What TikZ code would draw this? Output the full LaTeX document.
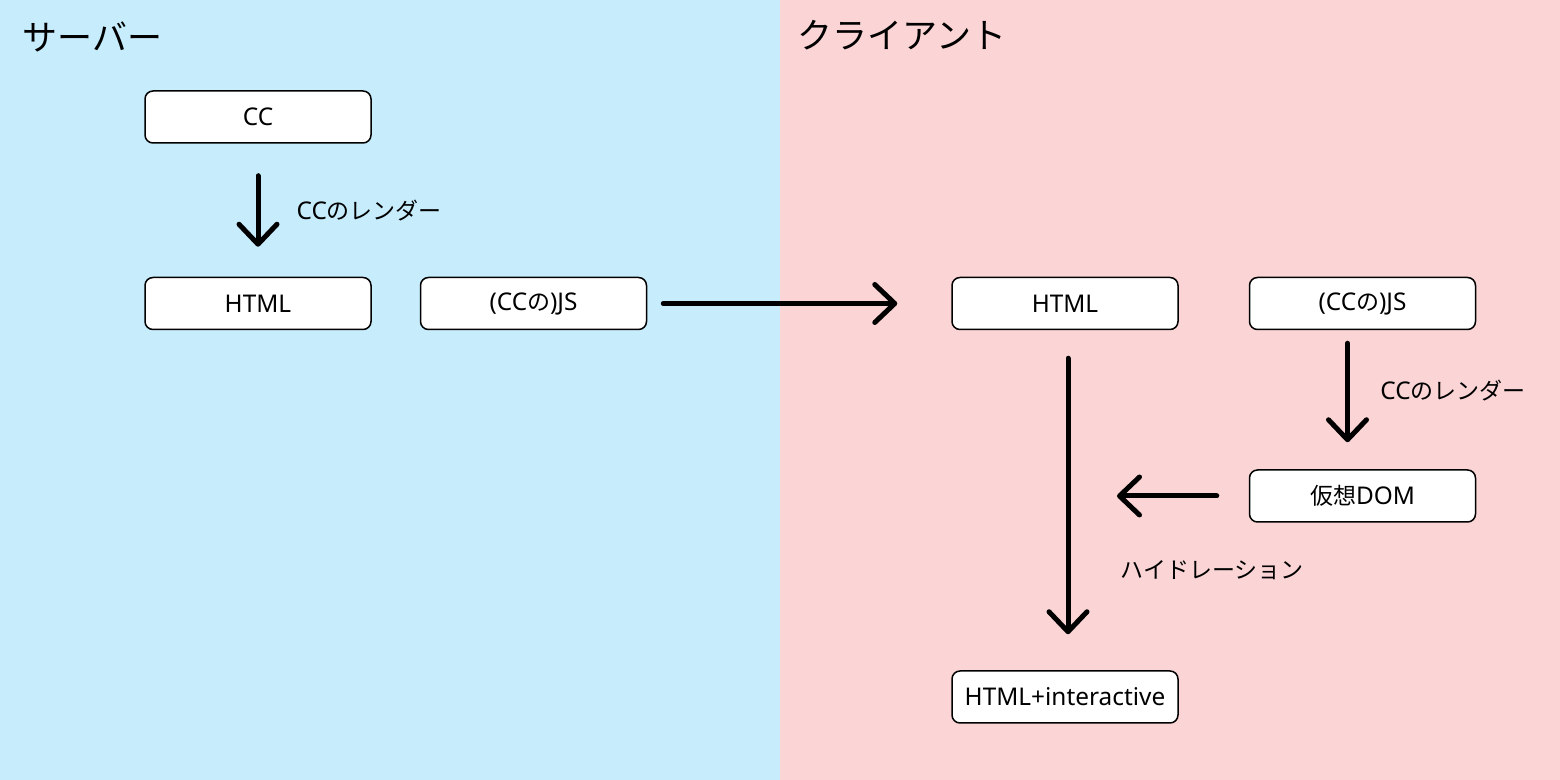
\documentclass[tikz,border=0pt]{standalone}
\usepackage{fontspec}
\setmainfont{Noto Sans}[Scale=1.06]
\newfontfamily\jafont{Noto Sans CJK JP}
\newcommand{\ja}[1]{{\jafont #1}}
\usetikzlibrary{positioning, arrows.meta}
\definecolor{serverbg}{HTML}{C7EDFD}
\definecolor{clientbg}{HTML}{FBD5D5}

\begin{document}
\begin{tikzpicture}[
    x=0.5pt, y=-0.5pt,
    % Define styles for the boxes, labels and arrows
        box/.style={draw, rounded corners=4pt, fill=white, line width=0.75pt, minimum width=113pt, minimum height=26pt, inner sep=0pt, font=\fontsize{11.5}{13}\selectfont},
        title/.style={anchor=west, inner sep=0pt, font=\fontsize{17.5}{20}\selectfont\jafont},
        steplabel/.style={font=\fontsize{11.5}{13}\selectfont},
        arrow/.style={-{Straight Barb[length=10pt, width=19pt, round]}, line width=2.5pt, line cap=round}
    ]

        % Backgrounds
        \fill[serverbg] (0,0) rectangle (780,780);
        \fill[clientbg] (780,0) rectangle (1560,780);

        % Titles
        \node[title] (server) at (22,37) {サーバー};
        \node[title] (client) at (797,35) {クライアント};

        % Define the nodes
        \node[box] (cc) at (258,117) {CC};

        \node[box, below=66.5pt of cc] (shtml) {HTML};

        \node[box, right=24pt of shtml] (sjs) {(CC\ja{の})JS};

        \node[box, right=152pt of sjs] (chtml) {HTML};

        \node[box, right=35pt of chtml] (cjs) {(CC\ja{の})JS};

        \node[box, below=69.5pt of cjs] (vdom) {\ja{仮想}DOM};

        \node[box, below=170pt of chtml] (inter) {HTML+interactive};

        \coordinate (hydr) at (chtml.south |- vdom.west);

        % Draw the arrows with labels
        \draw[arrow, shorten <=16pt, shorten >=15pt] (cc) -- node[steplabel, right=14.5pt] (srender) {CC\ja{のレンダー}} (shtml);

        \draw[arrow, shorten <=8pt, shorten >=27pt] (sjs) -- (chtml);

        \draw[arrow, shorten <=14pt, shorten >=18pt] ([xshift=1.5pt]chtml.south) -- ([xshift=1.5pt]inter.north);

        \draw[arrow, shorten <=6.5pt, shorten >=13.5pt] ([xshift=-7.5pt]cjs.south) -- node[steplabel, right=11.7pt, yshift=4.5pt] (crender) {CC\ja{のレンダー}} ([xshift=-7.5pt]vdom.north);

        \draw[arrow, shorten <=16pt, shorten >=26pt] (vdom) -- (hydr);

        \node[steplabel, anchor=west] (hydlabel) at (1113,570) {\ja{ハイドレーション}};
    \end{tikzpicture}
\end{document}
